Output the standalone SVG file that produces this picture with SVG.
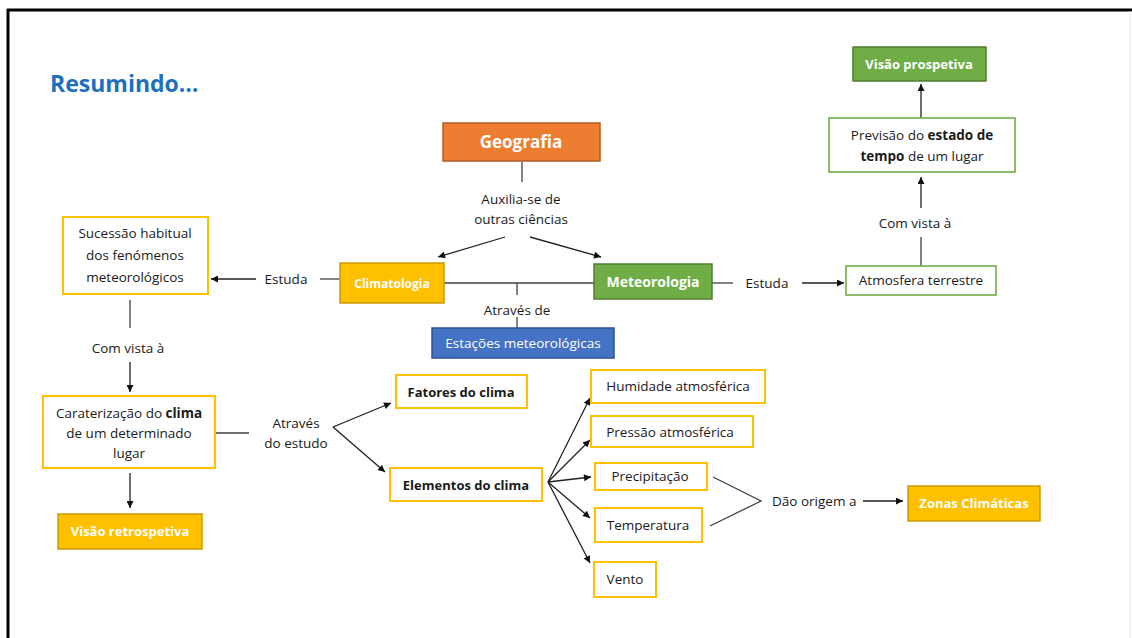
<svg xmlns="http://www.w3.org/2000/svg" width="1132" height="638" viewBox="0 0 1132 638">
<defs>
<marker id="ah" viewBox="0 0 10 10" refX="10" refY="5" markerWidth="8" markerHeight="7" markerUnits="userSpaceOnUse" orient="auto">
<path d="M0,0 L10,5 L0,10 z" fill="#111"/>
</marker>
<style>
text{font-family:"Open Sans","Liberation Sans",sans-serif;font-size:13.5px;fill:#1a1a1a}
.c{text-anchor:middle}
.b{font-weight:bold}
.w{fill:#fff;font-weight:bold;font-size:13px;text-anchor:middle}
.yb{fill:#fff;stroke:#FFC000;stroke-width:2}
.gb{fill:#fff;stroke:#70AD47;stroke-width:1.6}
.yf{fill:#FFC000;stroke:#C99A06;stroke-width:1.5}
.gf{fill:#70AD47;stroke:#507E32;stroke-width:1.5}
.ln{fill:none;stroke:#404040;stroke-width:1.3}
.ar{fill:none;stroke:#202020;stroke-width:1.3;marker-end:url(#ah)}
</style>
</defs>
<rect x="0" y="0" width="1132" height="638" fill="#fff"/>
<g id="frame">
<line x1="7" y1="10" x2="1132" y2="10" stroke="#000" stroke-width="3"/>
<line x1="8" y1="9" x2="8" y2="638" stroke="#000" stroke-width="3"/>
<line x1="1130" y1="11" x2="1130" y2="638" stroke="#e6e6e6" stroke-width="1"/>
</g>
<text x="50" y="92" style="font-size:23px;font-weight:bold;fill:#1E6FBF">Resumindo…</text>

<g id="connectors">
<path class="ln" d="M522,162 V182"/>
<path class="ar" d="M505,237 L438,257"/>
<path class="ar" d="M530,237 L601,257"/>
<path class="ln" d="M444,283 H594"/>
<path class="ln" d="M517,283 V295"/>
<path class="ln" d="M517,317 V328"/>
<path class="ln" d="M712,283 H733"/>
<path class="ar" d="M802,283 H844"/>
<path class="ln" d="M921,266 V237"/>
<path class="ar" d="M921,208 V177"/>
<path class="ar" d="M921,118 V84"/>
<path class="ln" d="M340,279 H320"/>
<path class="ar" d="M256,279 H211"/>
<path class="ln" d="M130,300 V328"/>
<path class="ar" d="M130,362 V392"/>
<path class="ar" d="M130,473 V508"/>
<path class="ln" d="M215,433 H249"/>
<path class="ar" d="M333,427 L391,403"/>
<path class="ar" d="M333,427 L385,472"/>
<path class="ar" d="M548,482 L590,398"/>
<path class="ar" d="M548,482 L590,440"/>
<path class="ar" d="M548,482 L591,477"/>
<path class="ar" d="M548,482 L590,518"/>
<path class="ar" d="M548,482 L590,563"/>
<path class="ln" d="M713,477 L761,501 L710,526"/>
<path class="ar" d="M863,501 H903"/>
</g>

<g id="labels">
<text class="c" x="521" y="204">Auxilia-se de</text>
<text class="c" x="521" y="224">outras ciências</text>
<text class="c" x="517" y="315">Através de</text>
<text class="c" x="767" y="288">Estuda</text>
<text class="c" x="286" y="284">Estuda</text>
<text class="c" x="915" y="228">Com vista à</text>
<text class="c" x="128" y="353">Com vista à</text>
<text class="c" x="296" y="428">Através</text>
<text class="c" x="296" y="448">do estudo</text>
<text x="772" y="506">Dão origem a</text>
</g>

<g id="geografia">
<rect x="443" y="123" width="157" height="38" fill="#ED7D31" stroke="#B05C22" stroke-width="1.5"/>
<text class="w" x="521" y="148" style="font-size:17px">Geografia</text>
</g>
<g id="climatologia">
<rect class="yf" x="340" y="263" width="104" height="40"/>
<text class="w" x="392" y="288" style="font-size:12px">Climatologia</text>
</g>
<g id="meteorologia">
<rect class="gf" x="594" y="264" width="118" height="35"/>
<text class="w" x="653" y="287" style="font-size:14px">Meteorologia</text>
</g>
<g id="estacoes">
<rect x="432" y="328" width="182" height="30" fill="#4472C4" stroke="#2F528F" stroke-width="1.5"/>
<text class="c" x="523" y="348" style="fill:#fff">Estações meteorológicas</text>
</g>
<g id="atmosfera">
<rect class="gb" x="846" y="266" width="150" height="29"/>
<text class="c" x="921" y="285">Atmosfera terrestre</text>
</g>
<g id="previsao">
<rect class="gb" x="829" y="118" width="186" height="54"/>
<text class="c" x="922" y="140">Previsão do <tspan class="b">estado de</tspan></text>
<text class="c" x="922" y="161"><tspan class="b">tempo</tspan> de um lugar</text>
</g>
<g id="visao-prospetiva">
<rect class="gf" x="853" y="47" width="133" height="34"/>
<text class="w" x="919" y="69">Visão prospetiva</text>
</g>
<g id="sucessao">
<rect class="yb" x="63" y="217" width="145" height="77"/>
<text class="c" x="135" y="238">Sucessão habitual</text>
<text class="c" x="135" y="260">dos fenómenos</text>
<text class="c" x="135" y="282">meteorológicos</text>
</g>
<g id="caraterizacao">
<rect class="yb" x="43" y="396" width="172" height="72"/>
<text class="c" x="129" y="418">Caraterização do <tspan class="b">clima</tspan></text>
<text class="c" x="129" y="438">de um determinado</text>
<text class="c" x="129" y="458">lugar</text>
</g>
<g id="visao-retrospetiva">
<rect class="yf" x="58" y="514" width="144" height="35"/>
<text class="w" x="130" y="536">Visão retrospetiva</text>
</g>
<g id="fatores">
<rect class="yb" x="396" y="375" width="131" height="33"/>
<text class="c b" x="461" y="397" style="font-size:13px">Fatores do clima</text>
</g>
<g id="elementos">
<rect class="yb" x="390" y="468" width="152" height="33"/>
<text class="c b" x="466" y="490" style="font-size:13px">Elementos do clima</text>
</g>
<g id="humidade">
<rect class="yb" x="591" y="370" width="174" height="33"/>
<text class="c" x="678" y="391">Humidade atmosférica</text>
</g>
<g id="pressao">
<rect class="yb" x="591" y="416" width="162" height="31"/>
<text class="c" x="670" y="437">Pressão atmosférica</text>
</g>
<g id="precipitacao">
<rect class="yb" x="595" y="463" width="112" height="27"/>
<text class="c" x="650" y="481">Precipitação</text>
</g>
<g id="temperatura">
<rect class="yb" x="595" y="508" width="107" height="34"/>
<text class="c" x="648" y="530">Temperatura</text>
</g>
<g id="vento">
<rect class="yb" x="594" y="562" width="62" height="35"/>
<text class="c" x="625" y="584">Vento</text>
</g>
<g id="zonas">
<rect class="yf" x="908" y="486" width="132" height="35"/>
<text class="w" x="974" y="508">Zonas Climáticas</text>
</g>
</svg>
